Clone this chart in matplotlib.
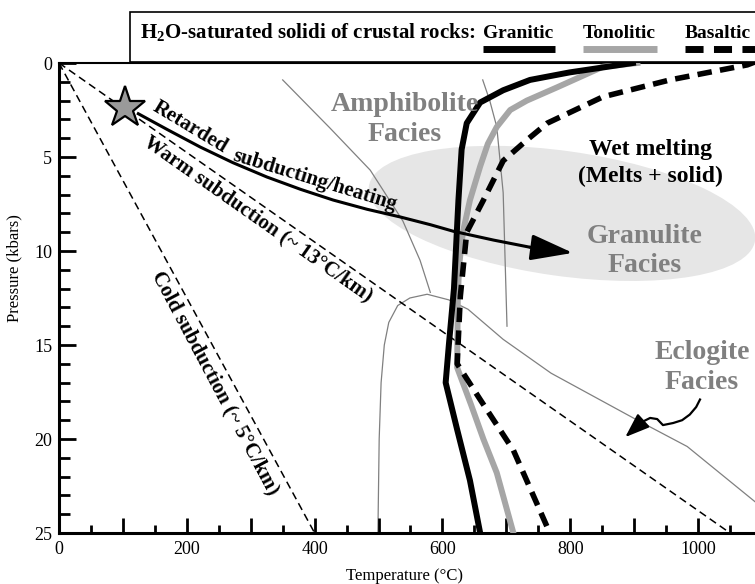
import matplotlib
matplotlib.use('Agg')
import matplotlib.pyplot as plt
from matplotlib.patches import Ellipse, Rectangle
from matplotlib.lines import Line2D
from matplotlib.transforms import ScaledTranslation
from matplotlib.ticker import MultipleLocator, FuncFormatter

plt.rcParams['font.family'] = ['Liberation Serif', 'DejaVu Serif']
plt.rcParams['mathtext.fontset'] = 'custom'
plt.rcParams['mathtext.rm'] = 'Liberation Serif:bold'
plt.rcParams['mathtext.bf'] = 'Liberation Serif:bold'

# ---------------- data ----------------
granitic_T = [898, 799, 737, 695, 659, 638, 630, 625, 618, 610, 605, 623, 643, 659]
granitic_P = [0, 0.5, 0.9, 1.45, 2.1, 3.2, 4.6, 7.3, 12, 15, 17, 19.5, 22.2, 25]

tonolitic_T = [905, 851, 779, 732, 706, 685, 671, 659, 643, 632, 626, 624, 623, 645, 664, 685, 711]
tonolitic_P = [0, 0.2, 1.3, 2.0, 2.5, 3.4, 4.3, 5.5, 7.3, 9.0, 10.8, 12.6, 16.2, 18.2, 20.0, 21.8, 25]

basaltic_T = [1100, 1077, 956, 851, 764, 732, 695, 664, 638, 628, 623, 659, 711, 768]
basaltic_P = [-0.2, 0.1, 0.9, 1.8, 3.2, 4.1, 5.2, 7.3, 9.0, 12.4, 16.0, 17.9, 20.6, 25]

warm_T = [0, 1050]
warm_P = [0, 25]
cold_T = [0, 400]
cold_P = [0, 25]

amph_left_T = [350, 424, 487, 538, 565, 581]
amph_left_P = [0.9, 3.46, 5.7, 8.4, 10.5, 12.2]

amph_right_T = [663, 674, 685, 695, 701]
amph_right_P = [0.9, 2.0, 3.4, 6.9, 14.0]

eclogite_T = [499, 501, 504, 509, 516, 530, 549, 576, 610, 640, 695, 770, 905, 983, 1095]
eclogite_P = [25, 20, 17, 15, 13.8, 12.9, 12.5, 12.3, 12.6, 13.1, 14.7, 16.5, 19.0, 20.4, 23.5]

path_T = [122, 170, 221, 272, 325, 378, 429, 482, 534, 581, 617, 680, 737, 804]
path_P = [2.66, 3.55, 4.47, 5.3, 6.06, 6.72, 7.29, 7.78, 8.19, 8.6, 8.95, 9.42, 9.8, 10.1]

star_T = [103]
star_P = [2.4]

curl_T = [1003, 997, 987, 975, 961, 945, 936, 925, 912, 886]
curl_P = [17.9, 18.3, 18.7, 19.0, 19.15, 19.26, 18.94, 18.88, 19.1, 19.9]

# ---------------- figure ----------------
W, H = 755, 584
fig = plt.figure(figsize=(W / 100, H / 100), dpi=100)
ax = fig.add_axes([59 / W, (H - 533) / H, 703 / W, 470 / H])
ax.set_xlim(0, 1100)
ax.set_ylim(25, 0)

# granulite ellipse (shaded)
ell = Ellipse((0, 0), width=3.9, height=1.25, angle=-8,
              transform=fig.dpi_scale_trans + ScaledTranslation(787, 8.0, ax.transData),
              facecolor='#e6e6e6', edgecolor='none', zorder=0)
ax.add_patch(ell)

facies_col = '#808080'
ax.plot(amph_left_T, amph_left_P, color=facies_col, lw=0.9, zorder=1)
ax.plot(amph_right_T, amph_right_P, color=facies_col, lw=0.9, zorder=1)
ax.plot(eclogite_T, eclogite_P, color=facies_col, lw=0.9, zorder=1)

ax.plot(warm_T, warm_P, color='k', lw=1.1, ls=(0, (5, 3)), zorder=2)
ax.plot(cold_T, cold_P, color='k', lw=1.1, ls=(0, (5, 3)), zorder=2)

ax.plot(tonolitic_T, tonolitic_P, color='#a6a6a6', lw=4.3, zorder=3, solid_joinstyle='round')
ax.plot(granitic_T, granitic_P, color='k', lw=4.3, zorder=4, solid_joinstyle='round')
ax.plot(basaltic_T, basaltic_P, color='k', lw=4.0, ls=(0, (2.6, 1.5)), zorder=4)

# retarded subduction path arrow
ax.plot(path_T[:-1], path_P[:-1], color='k', lw=2.2, zorder=5, solid_capstyle='butt',
        solid_joinstyle='round')
ax.annotate('', xy=(path_T[-1], path_P[-1]), xytext=(path_T[-2], path_P[-2]),
            arrowprops=dict(arrowstyle='-|>,head_length=2.6,head_width=0.8',
                            mutation_scale=10, lw=2.2, color='k',
                            shrinkA=0, shrinkB=0), zorder=5)

ax.plot(star_T, star_P, marker='*', markersize=31, markerfacecolor='#9a9a9a',
        markeredgecolor='k', markeredgewidth=1.6, ls='none', zorder=6, clip_on=False)

# eclogite curly arrow
ax.plot(curl_T[:-1], curl_P[:-1], color='k', lw=1.6, zorder=5, solid_joinstyle='round')
ax.annotate('', xy=(curl_T[-1], curl_P[-1]), xytext=(curl_T[-2], curl_P[-2]),
            arrowprops=dict(arrowstyle='-|>,head_length=1.5,head_width=0.55',
                            mutation_scale=10, lw=1.6, color='k',
                            shrinkA=0, shrinkB=0), zorder=5)

# labels
bold = dict(fontweight='bold', ha='center', va='center')
ax.text(541, 3.0, 'Amphibolite\nFacies', color=facies_col, fontsize=20,
        linespacing=1.25, zorder=7, **bold)
ax.text(926, 5.3, 'Wet melting\n(Melts + solid)', color='k', fontsize=17,
        linespacing=1.35, zorder=7, **bold)
ax.text(917, 10.0, 'Granulite\nFacies', color=facies_col, fontsize=20,
        linespacing=1.25, zorder=7, **bold)
ax.text(1006, 16.2, 'Eclogite\nFacies', color=facies_col, fontsize=20,
        linespacing=1.25, zorder=7, **bold)

ax.text(205, 3.4, 'Retarded', fontsize=15, rotation=-31, rotation_mode='anchor',
        zorder=7, **bold)
ax.text(401, 6.25, 'subducting/heating', fontsize=15, rotation=-17,
        rotation_mode='anchor', zorder=7, **bold)
ax.text(311, 8.3, 'Warm subduction (~ 13°C/km)', fontsize=15, rotation=-35,
        rotation_mode='anchor', zorder=7, **bold)
ax.text(244, 17.0, 'Cold subduction (~ 5°C/km)', fontsize=15, rotation=-62,
        rotation_mode='anchor', zorder=7, **bold)

# axes styling
ax.spines['right'].set_visible(False)
ax.spines['left'].set_linewidth(2.2)
ax.spines['bottom'].set_linewidth(2.2)
ax.spines['top'].set_linewidth(1.5)

ax.xaxis.set_major_locator(MultipleLocator(100))
ax.xaxis.set_minor_locator(MultipleLocator(50))
ax.xaxis.set_major_formatter(FuncFormatter(lambda v, p: f'{int(v)}' if int(round(v)) % 200 == 0 else ''))
ax.yaxis.set_major_locator(MultipleLocator(5))
ax.yaxis.set_minor_locator(MultipleLocator(1))
ax.tick_params(axis='x', which='major', direction='in', length=11, width=2.0,
               labelsize=13, pad=6, top=False)
ax.tick_params(axis='x', which='minor', direction='in', length=6, width=2.0, top=False)
ax.tick_params(axis='y', which='major', direction='in', length=12, width=2.0,
               labelsize=13, pad=5, right=False)
ax.tick_params(axis='y', which='minor', direction='in', length=8, width=2.0, right=False)

fig.text(405 / W, 1 - 576 / H, 'Temperature (°C)', ha='center', va='center', fontsize=12)
fig.text(14 / W, 1 - 268 / H, 'Pressure (kbars)', ha='center', va='center',
         fontsize=12, rotation=90)

# legend box
fig.add_artist(Rectangle((130 / W, 1 - 62 / H), 700 / W, 50 / H, transform=fig.transFigure,
                         facecolor='white', edgecolor='k', lw=1.2, zorder=10))
fig.text(140 / W, 1 - 38 / H, r'H$_2$O-saturated solidi of crustal rocks:', fontsize=15,
         fontweight='bold', ha='left', va='baseline', zorder=11)
leg_names = ['Granitic', 'Tonolitic', 'Basaltic']
leg_x = [483, 583, 685]
leg_x2 = [555, 657, 760]
leg_col = ['k', '#a6a6a6', 'k']
leg_ls = ['-', '-', (0, (2.6, 1.5))]
for name, x0, x1, c, ls in zip(leg_names, leg_x, leg_x2, leg_col, leg_ls):
    fig.text(x0 / W, 1 - 38 / H, name, fontsize=14, fontweight='bold', ha='left',
             va='baseline', zorder=11)
    fig.add_artist(Line2D([x0 / W, x1 / W], [1 - 49 / H, 1 - 49 / H], transform=fig.transFigure,
                          color=c, lw=5, ls=ls, solid_capstyle='butt', zorder=11))

fig.savefig('out.png', dpi=100)
